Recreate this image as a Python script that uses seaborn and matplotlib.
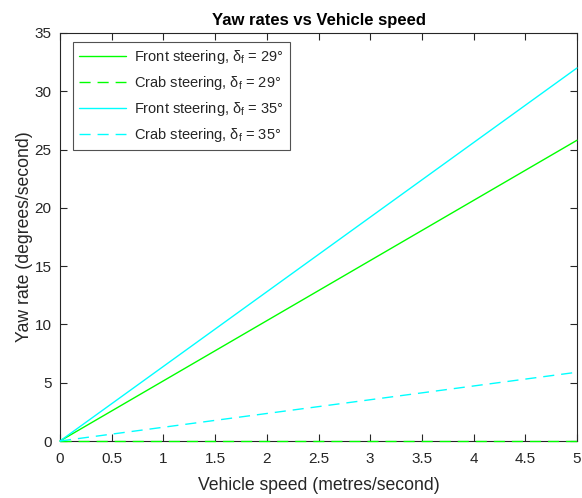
import matplotlib
matplotlib.use("Agg")
import matplotlib.pyplot as plt
import seaborn as sns
import pandas as pd

speed = [0, 5]
front_29 = [0, 25.8]
crab_29 = [0, 0]
front_35 = [0, 32.0]
crab_35 = [0, 5.9]
labels = [r"Front steering, $\delta_f$ = 29°", r"Crab steering, $\delta_f$ = 29°",
          r"Front steering, $\delta_f$ = 35°", r"Crab steering, $\delta_f$ = 35°"]
xticks = [0, 0.5, 1, 1.5, 2, 2.5, 3, 3.5, 4, 4.5, 5]
yticks = [0, 5, 10, 15, 20, 25, 30, 35]

sns.set_theme(style="white")
plt.rcParams['font.family'] = ['Liberation Sans', 'DejaVu Sans']
plt.rcParams['mathtext.fontset'] = 'custom'
plt.rcParams['mathtext.rm'] = 'Liberation Sans'
plt.rcParams['mathtext.it'] = 'Liberation Sans'

fig = plt.figure(figsize=(5.82, 4.98), dpi=100)
ax = fig.add_axes([60/582, 57/498, 517/582, 408/498])

series = [(front_29, "#00ff00", "-"), (crab_29, "#00ff00", "--"),
          (front_35, "#00ffff", "-"), (crab_35, "#00ffff", "--")]
for (vals, col, ls), lab in zip(series, labels):
    sns.lineplot(x=speed, y=vals, ax=ax, color=col, linewidth=1.0,
                 label=lab, zorder=5, clip_on=False)

for line, (_, _, ls) in zip(ax.get_lines(), series):
    line.set_linestyle(ls)
    if ls == "--":
        line.set_dashes([8, 5])

ax.set_xlim(0, 5)
ax.set_ylim(0, 35)
ax.set_xticks(xticks)
ax.set_xticklabels([f"{t:g}" for t in xticks])
ax.set_yticks(yticks)
ax.tick_params(axis='x', pad=8)
ax.tick_params(axis='y', pad=6)
ax.tick_params(direction='in', top=True, right=True, length=5, width=0.8,
               labelsize=11, colors='#262626', bottom=True, left=True)
for s in ax.spines.values():
    s.set_color('#262626')
    s.set_linewidth(0.8)
ax.set_xlabel("Vehicle speed (metres/second)", fontsize=12.7, color='#262626', labelpad=8)
ax.set_ylabel("Yaw rate (degrees/second)", fontsize=12.7, color='#262626', labelpad=1)
ax.set_title("Yaw rates vs Vehicle speed", fontsize=12, fontweight='bold', color='black')

leg = ax.legend(loc='upper left', bbox_to_anchor=(13/517, 399/408), borderaxespad=0,
                fontsize=10.5, frameon=True, fancybox=False, edgecolor='#262626',
                handlelength=3.2, handletextpad=0.6, borderpad=0.4, labelspacing=0.55)
leg.get_frame().set_linewidth(0.8)
for h in leg.get_lines():
    h.set_linewidth(1.0)

fig.savefig("out.png", dpi=100, facecolor='white')
